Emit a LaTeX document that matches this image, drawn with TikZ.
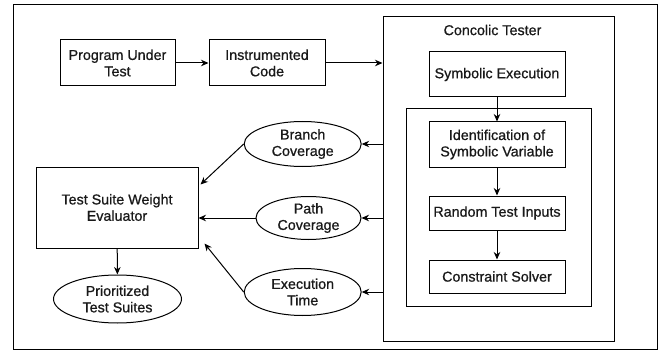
\documentclass[tikz,border=0pt]{standalone}
\usepackage{fontspec}
\setmainfont{Liberation Sans}
\newfontfamily\diagfont[FakeBold=0.8]{Liberation Sans}
\usetikzlibrary{shapes, arrows.meta}

\begin{document}
\begin{tikzpicture}[x=1pt, y=-1pt, line width=1pt,
    every node/.style={font=\diagfont\fontsize{14.3}{16.4}\selectfont, align=center, text=black!90},
    box/.style={rectangle, draw, inner sep=0pt},
    oval/.style={ellipse, draw, inner sep=0pt},
    arr/.style={-{Stealth[length=7.5pt, width=6.5pt]}}]
    \useasboundingbox (0,0) rectangle (662,353);
    \draw (13,5) rectangle (657,349);
    % concolic tester frame
    \node[box, minimum width=231, minimum height=324] (CT) at (498.5,179) {};
    \node (CTlabel) at (492.5,30) {Concolic Tester};
    \node[box, minimum width=185, minimum height=197] (inner) at (498.5,207.5) {};
    \node[box, minimum width=136, minimum height=45] (SE) at (497,74.5) {Symbolic Execution};
    \node[box, minimum width=136, minimum height=45] (ID) at (497,144.5) {Identification of\\Symbolic Variable};
    \node[box, minimum width=136, minimum height=34] (RTI) at (497,213) {Random Test Inputs};
    \node[box, minimum width=136, minimum height=33] (CS) at (497,276.5) {Constraint Solver};
    % input side
    \node[box, minimum width=115, minimum height=46] (PUT) at (117.5,63) {Program Under\\Test};
    \node[box, minimum width=116, minimum height=46] (IC) at (267,63) {Instrumented\\Code};
    % metrics
    \node[oval, minimum width=117, minimum height=45] (BC) at (302.7,144) {Branch\\Coverage};
    \node[oval, minimum width=105, minimum height=43] (PC) at (308.5,218) {Path\\Coverage};
    \node[oval, minimum width=117, minimum height=47] (ET) at (302.7,292) {Execution\\Time};
    \node[box, minimum width=162, minimum height=81] (TSW) at (117,207.5) {Test Suite Weight\\Evaluator};
    \node[oval, minimum width=128, minimum height=48] (PTS) at (117.5,299) {Prioritized\\Test Suites};

    \draw[arr] (PUT) -- (IC);
    \draw[arr] (IC.east) -- (IC.east -| CT.west);
    \draw[arr] (SE) -- (ID);
    \draw[arr] (ID) -- (RTI);
    \draw[arr] (RTI) -- (CS);
    \draw[arr] (CT.west |- BC.east) -- (BC.east);
    \draw[arr] (CT.west |- PC.east) -- (PC.east);
    \draw[arr] (CT.west |- ET.east) -- (ET.east);
    \draw[arr] (BC.west) -- ([xshift=2pt, yshift=-18pt]TSW.north east);
    \draw[arr] (PC.west) -- (PC.west -| TSW.east);
    \draw[arr] (ET.west) -- ([xshift=6pt, yshift=5pt]TSW.south east);
    \draw[arr] (TSW) -- (PTS);
\end{tikzpicture}
\end{document}
